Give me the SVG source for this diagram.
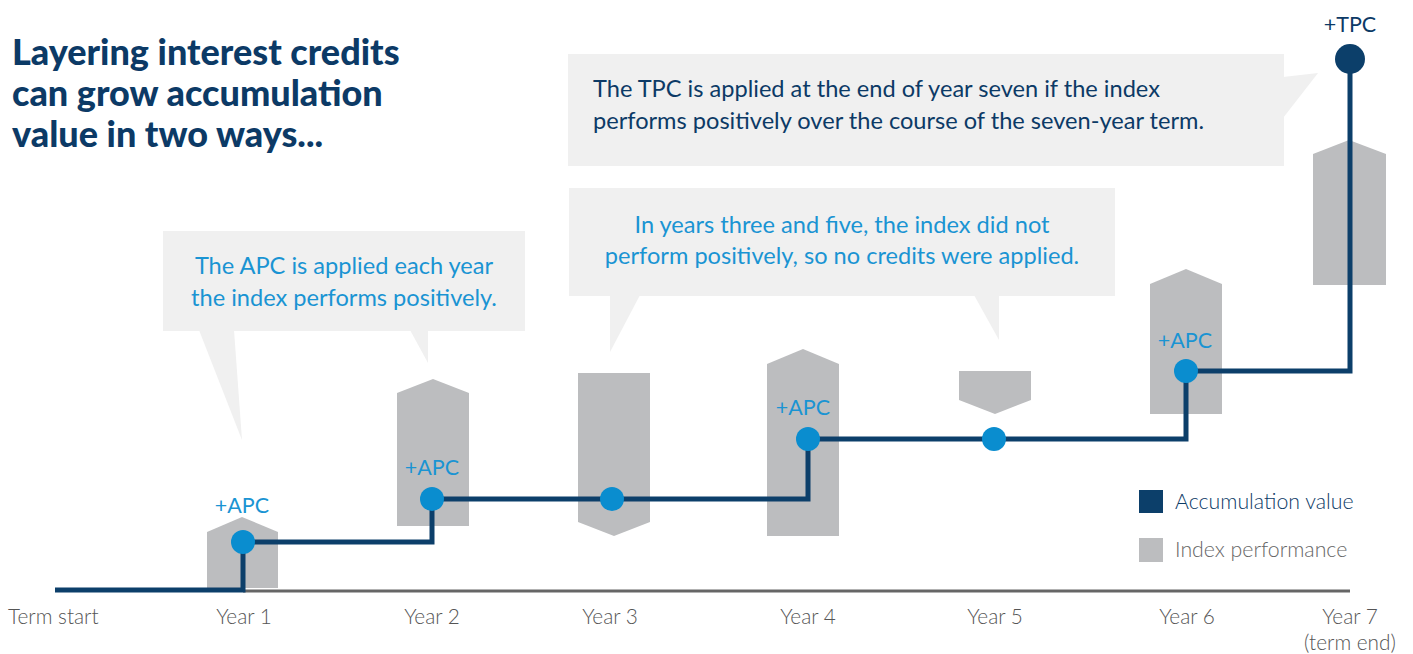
<svg xmlns="http://www.w3.org/2000/svg" width="1413" height="654" viewBox="0 0 1413 654">
<style>
.bar{fill:#bcbdbf}
.call{fill:#f0f0f0}
.acc{fill:none;stroke:#0c3f6a;stroke-width:5;stroke-linejoin:miter}
.dot{fill:#0a8dcf}
.title{font-family:Lato,"Open Sans",sans-serif;font-weight:900;font-size:36px;fill:#0c3a66}
.ctext{font-family:Lato,"Open Sans",sans-serif;font-weight:400;font-size:23.6px;fill:#1a94d3;text-anchor:middle}
.ttext{font-family:Lato,"Open Sans",sans-serif;font-weight:400;font-size:23.6px;fill:#0c3a66}
.apc{font-family:Lato,"Open Sans",sans-serif;font-weight:400;font-size:21.5px;fill:#1a94d3;text-anchor:middle}
.axis{font-family:Lato,"Open Sans",sans-serif;font-weight:300;font-size:20.8px;fill:#555;text-anchor:middle}
.leg{font-family:Lato,"Open Sans",sans-serif;font-weight:300;font-size:21.3px}
</style>
<rect width="1413" height="654" fill="#fff"/>
<g id="title">
<text class="title" x="12" y="65">Layering interest credits</text>
<text class="title" x="12" y="106">can grow accumulation</text>
<text class="title" x="12" y="147">value in two ways...</text>
</g>
<g id="callout-apc">
<polygon class="call" points="199,330 234,330 242,440"/>
<polygon class="call" points="410,330 428,330 428,363" fill="#edf1f6"/>
<rect class="call" x="163" y="231" width="362" height="100"/>
<text class="ctext" x="344" y="274">The APC is applied each year</text>
<text class="ctext" x="344" y="306">the index performs positively.</text>
</g>
<g id="callout-none">
<polygon class="call" points="610,295 640,295 610,352"/>
<polygon class="call" points="974,295 999,295 999,340"/>
<rect class="call" x="569" y="188" width="546" height="108"/>
<text class="ctext" x="842" y="233">In years three and five, the index did not</text>
<text class="ctext" x="842" y="264">perform positively, so no credits were applied.</text>
</g>
<g id="callout-tpc">
<polygon class="call" points="1283,77 1318,73 1283,118"/>
<rect class="call" x="568" y="54" width="716" height="112"/>
<text class="ttext" x="593" y="97">The TPC is applied at the end of year seven if the index</text>
<text class="ttext" x="593" y="129">performs positively over the course of the seven-year term.</text>
</g>
<g id="bars">
<polygon id="bar-y1" class="bar" points="207,588 207,532 242,517 278,532 278,588"/>
<polygon id="bar-y2" class="bar" points="397,526 397,393 433,379 469,393 469,526"/>
<polygon id="bar-y3" class="bar" points="578,373 650,373 650,522 614,536 578,522"/>
<polygon id="bar-y4" class="bar" points="767,536 767,364 803,349 839,364 839,536"/>
<polygon id="bar-y5" class="bar" points="959,371 1031,371 1031,400 995,414 959,400"/>
<polygon id="bar-y6" class="bar" points="1150,414 1150,284 1186,269 1222,284 1222,414"/>
<polygon id="bar-y7" class="bar" points="1313,285 1313,154 1349,140 1386,154 1386,285"/>
</g>
<g id="connectors">
<line x1="243" y1="591" x2="1350" y2="591" stroke="#666" stroke-width="3"/>
<polyline class="acc" points="55,590 243,590 243,542 432,542 432,499 808,499 808,439 1186,439 1186,371 1350,371 1350,59"/>
</g>
<g id="points">
<circle class="dot" cx="243" cy="542" r="12"/>
<circle class="dot" cx="432" cy="499" r="12"/>
<circle class="dot" cx="612" cy="499" r="12"/>
<circle class="dot" cx="808" cy="439" r="12"/>
<circle class="dot" cx="994" cy="439" r="12"/>
<circle class="dot" cx="1186" cy="371" r="12"/>
<circle cx="1350" cy="59" r="15" fill="#0c3f6a"/>
</g>
<g id="labels">
<text class="apc" x="242" y="513">+APC</text>
<text class="apc" x="432" y="475">+APC</text>
<text class="apc" x="803" y="415">+APC</text>
<text class="apc" x="1185" y="348">+APC</text>
<text class="apc" x="1350" y="32" style="fill:#0c3a66">+TPC</text>
</g>
<g id="legend">
<rect x="1139" y="490" width="24" height="23" fill="#0c3f6a"/>
<text class="leg" x="1175" y="509" fill="#0c3a66">Accumulation value</text>
<rect x="1139" y="538" width="24" height="24" fill="#bcbdbf"/>
<text class="leg" x="1175" y="557" fill="#666">Index performance</text>
</g>
<g id="axis">
<text class="axis" x="8" y="624" style="text-anchor:start">Term start</text>
<text class="axis" x="244" y="624">Year 1</text>
<text class="axis" x="432" y="624">Year 2</text>
<text class="axis" x="610" y="624">Year 3</text>
<text class="axis" x="808" y="624">Year 4</text>
<text class="axis" x="995" y="624">Year 5</text>
<text class="axis" x="1187" y="624">Year 6</text>
<text class="axis" x="1350" y="624">Year 7</text>
<text class="axis" x="1350" y="650">(term end)</text>
</g>
</svg>
